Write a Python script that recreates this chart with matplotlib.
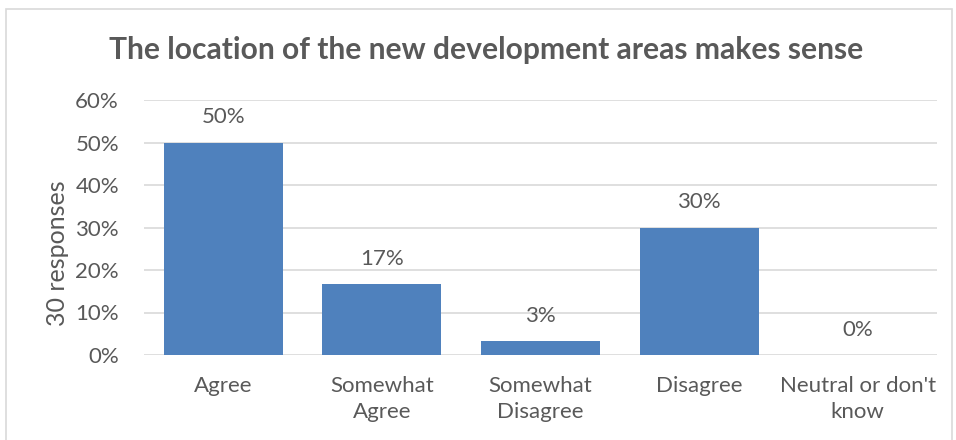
import matplotlib
matplotlib.use("Agg")
import matplotlib.pyplot as plt
from matplotlib.patches import Rectangle
from matplotlib.ticker import PercentFormatter

categories = ["Agree", "Somewhat\nAgree", "Somewhat\nDisagree", "Disagree", "Neutral or don't\nknow"]
responses = [15, 5, 1, 9, 0]
total = 30
shares = [r / total * 100 for r in responses]
yticks = [0, 10, 20, 30, 40, 50, 60]

plt.rcParams["font.family"] = ["Lato", "DejaVu Sans"]
text_color = "#595959"
bar_color = "#4F81BD"
grid_color = "#D9D9D9"

fig = plt.figure(figsize=(9.56, 4.4), dpi=100)
fig.patch.set_facecolor("white")
fig.patches.append(Rectangle((6 / 956, -0.01), 946 / 956, 1 - 9 / 440 + 0.01,
                             transform=fig.transFigure, fill=False,
                             edgecolor=grid_color, linewidth=1.2))

ax = fig.add_axes([144 / 956, 1 - 355 / 440, (937 - 144) / 956, (355 - 100) / 440])
x = range(len(categories))
ax.bar(x, shares, width=0.75, color=bar_color, zorder=3)
for xi, v in zip(x, shares):
    ax.text(xi, v + 3.6, f"{v:.0f}%", ha="center", va="bottom", fontsize=16, color=text_color)

ax.set_ylim(0, 60)
ax.set_xlim(-0.5, len(categories) - 0.5)
ax.set_yticks(yticks)
ax.yaxis.set_major_formatter(PercentFormatter(decimals=0))
ax.set_xticks(list(x))
ax.set_xticklabels(categories, fontsize=16, color=text_color, linespacing=1.4)
ax.tick_params(axis="y", labelsize=16, labelcolor=text_color, length=0, pad=18)
ax.tick_params(axis="x", length=0, pad=15)
ax.grid(axis="y", color=grid_color, linewidth=1.2, zorder=0)
for s in ax.spines.values():
    s.set_visible(False)
ax.set_ylabel("30 responses", fontsize=18, color=text_color)
ax.yaxis.set_label_coords(-0.095, 0.40)

fig.text(486 / 956, 1 - 50 / 440, "The location of the new development areas makes sense",
         ha="center", va="center", fontsize=21.6, fontweight="bold", color=text_color)

fig.savefig("out.png", dpi=100)
